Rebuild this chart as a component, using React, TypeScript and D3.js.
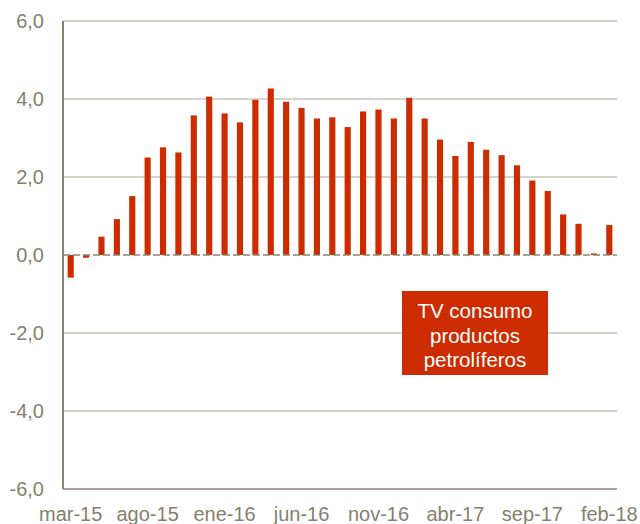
import React from "react";
import * as d3 from "d3";

const months = [
  "mar-15","abr-15","may-15","jun-15","jul-15","ago-15","sep-15","oct-15","nov-15","dic-15",
  "ene-16","feb-16","mar-16","abr-16","may-16","jun-16","jul-16","ago-16","sep-16","oct-16","nov-16","dic-16",
  "ene-17","feb-17","mar-17","abr-17","may-17","jun-17","jul-17","ago-17","sep-17","oct-17","nov-17","dic-17",
  "ene-18","feb-18",
];
const values = [
  -0.58, -0.07, 0.47, 0.92, 1.51, 2.50, 2.76, 2.63, 3.58, 4.06,
  3.63, 3.40, 3.98, 4.27, 3.93, 3.77, 3.50, 3.53, 3.28, 3.68,
  3.73, 3.50, 4.03, 3.50, 2.96, 2.54, 2.90, 2.70, 2.56, 2.30,
  1.91, 1.64, 1.04, 0.80, 0.04, 0.77,
];
const xTickLabels = ["mar-15","ago-15","ene-16","jun-16","nov-16","abr-17","sep-17","feb-18"];
const yTicks = [-6, -4, -2, 0, 2, 4, 6];
const boxLines = ["TV consumo", "productos", "petrolíferos"];

const W = 640, H = 524;
const left = 63, right = 617, top = 21, bottom = 489;
const RED = "#cc2c00";
const AXIS = "#8b8471";
const GRID = "#c9c5ba";
const TEXT = "#857f6d";
const FONT = "'Liberation Sans', Arial, sans-serif";

export default function App() {
  const x = d3.scaleBand<string>().domain(months).range([left, right]).paddingInner(0.6).paddingOuter(0.3);
  const y = d3.scaleLinear().domain([-6, 6]).range([bottom, top]);
  const fmt = (v: number) => d3.format(".1f")(v).replace(".", ",").replace("−", "-");
  const bw = x.bandwidth();
  return (
    <svg width={W} height={H} style={{ position: "fixed", left: 0, top: 0, display: "block", background: "#fff" }}>
      {yTicks.filter(t => t !== 0 && t !== -6).map(t => (
        <line key={t} x1={left} x2={right} y1={y(t)} y2={y(t)} stroke={GRID} strokeWidth={1.5} />
      ))}
      {months.map((m, i) => {
        const v = values[i];
        const y0 = y(0), y1 = y(v);
        return (
          <rect key={m} x={x(m)!} width={bw} y={Math.min(y0, y1)} height={Math.abs(y1 - y0)} fill={RED} />
        );
      })}
      <line x1={left} x2={right} y1={y(0)} y2={y(0)} stroke={AXIS} strokeWidth={1.5} strokeDasharray="7,3" />
      <line x1={left} x2={right} y1={y(-6)} y2={y(-6)} stroke={AXIS} strokeWidth={1.5} />
      <line x1={left} x2={left} y1={y(6)} y2={y(-6)} stroke={AXIS} strokeWidth={2} />
      {yTicks.map(t => (
        <text key={t} x={44} y={y(t)} dy="0.35em" textAnchor="end" fontFamily={FONT} fontSize={20} fill={TEXT}>
          {fmt(t)}
        </text>
      ))}
      {xTickLabels.map(l => (
        <text key={l} x={x(l)! + bw / 2} y={521} textAnchor="middle" fontFamily={FONT} fontSize={20} fill={TEXT}>
          {l}
        </text>
      ))}
      <rect x={402} y={291} width={146} height={84} fill={RED} />
      {boxLines.map((s, i) => (
        <text key={s} x={475} y={318 + i * 24.5} textAnchor="middle" fontFamily={FONT} fontSize={20.5} fill="#fff">
          {s}
        </text>
      ))}
    </svg>
  );
}
